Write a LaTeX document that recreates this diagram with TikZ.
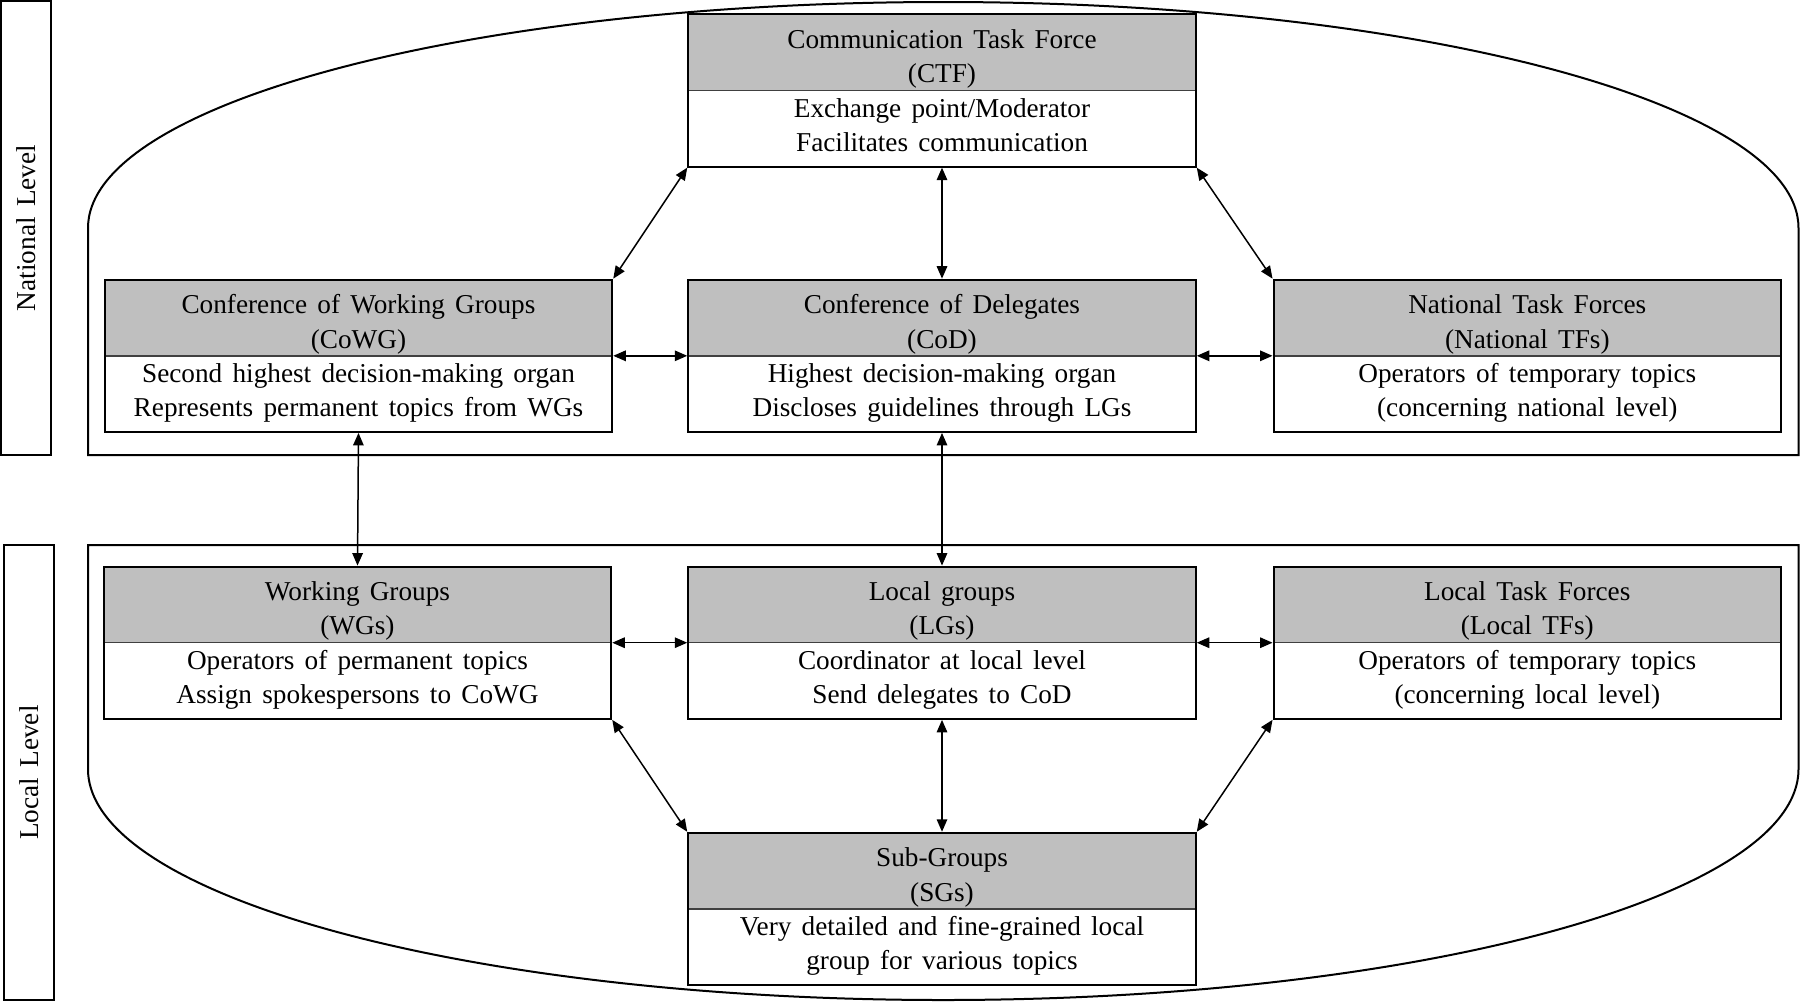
\documentclass[tikz,border=0pt]{standalone}
\usepackage{fontspec}
\setmainfont[WordSpace=1.5]{Liberation Serif}
\usetikzlibrary{arrows.meta,calc}
\definecolor{hdrgray}{RGB}{191,191,191}

\begin{document}
\begin{tikzpicture}[x=0.4pt,y=-0.4pt,
  frame/.style={draw, line width=0.8pt},
  orgbox/.style={draw, line width=0.8pt, fill=white, inner sep=0pt,
    minimum width=203pt, minimum height=60.9pt,
    path picture={
      \fill[hdrgray] (path picture bounding box.north west) rectangle (path picture bounding box.east);
      \draw[line width=0.6pt, black!75] (path picture bounding box.west) -- (path picture bounding box.east);
    }},
  boxtext/.style={anchor=base, inner sep=0pt,
    font=\fontsize{10.9pt}{13.75pt}\selectfont},
  lvlbox/.style={draw, line width=0.8pt, rotate=90, inner sep=0pt,
    font=\fontsize{10.9pt}{13.75pt}\selectfont},
  link/.style={<->, >={Triangle[length=5pt,width=4.2pt]}, line width=0.6pt}
]
\useasboundingbox (0,0) rectangle (1800,1002);

% level frames: flat side towards the middle, half-elliptic outer side
\draw[frame] (88,455) -- (1798.5,455) -- (1798.5,228)
  arc[start angle=0, end angle=-180, x radius=855.25, y radius=226] -- cycle;
\draw[frame] (88,545) -- (1798.5,545) -- (1798.5,769)
  arc[start angle=0, end angle=180, x radius=855.25, y radius=231] -- cycle;

% level labels
\node[lvlbox, minimum width=181.6pt, minimum height=20pt] (natlvl) at (26,228) {National Level};
\node[lvlbox, minimum width=182pt, minimum height=19.6pt] (loclvl) at (29,772.5) {Local Level};

% organisational units
\node[orgbox] (ctf)  at (942,90.5)    {};
\node[orgbox] (cowg) at (358.5,355.8) {};
\node[orgbox] (cod)  at (942,355.8)   {};
\node[orgbox] (ntf)  at (1527.3,355.8){};
\node[orgbox] (wg)   at (357.5,642.7) {};
\node[orgbox] (lg)   at (942,642.7)   {};
\node[orgbox] (ltf)  at (1527.3,642.7){};
\node[orgbox] (sg)   at (942,908.9)   {};

% box texts (title, abbreviation, two lines of description)
\node[boxtext] (ctf-t) at ($(ctf.north)+(0,35)$) {\begin{tabular}[t]{@{}c@{}}Communication Task Force\\(CTF)\\Exchange point/Moderator\\Facilitates communication\end{tabular}};
\node[boxtext] (cowg-t) at ($(cowg.north)+(0,35)$) {\begin{tabular}[t]{@{}c@{}}Conference of Working Groups\\(CoWG)\\Second highest decision-making organ\\Represents permanent topics from WGs\end{tabular}};
\node[boxtext] (cod-t) at ($(cod.north)+(0,35)$) {\begin{tabular}[t]{@{}c@{}}Conference of Delegates\\(CoD)\\Highest decision-making organ\\Discloses guidelines through LGs\end{tabular}};
\node[boxtext] (ntf-t) at ($(ntf.north)+(0,35)$) {\begin{tabular}[t]{@{}c@{}}National Task Forces\\(National TFs)\\Operators of temporary topics\\(concerning national level)\end{tabular}};
\node[boxtext] (wg-t) at ($(wg.north)+(0,35)$) {\begin{tabular}[t]{@{}c@{}}Working Groups\\(WGs)\\Operators of permanent topics\\Assign spokespersons to CoWG\end{tabular}};
\node[boxtext] (lg-t) at ($(lg.north)+(0,35)$) {\begin{tabular}[t]{@{}c@{}}Local groups\\(LGs)\\Coordinator at local level\\Send delegates to CoD\end{tabular}};
\node[boxtext] (ltf-t) at ($(ltf.north)+(0,35)$) {\begin{tabular}[t]{@{}c@{}}Local Task Forces\\(Local TFs)\\Operators of temporary topics\\(concerning local level)\end{tabular}};
\node[boxtext] (sg-t) at ($(sg.north)+(0,35)$) {\begin{tabular}[t]{@{}c@{}}Sub-Groups\\(SGs)\\Very detailed and fine-grained local\\group for various topics\end{tabular}};

% connections
\draw[link] (cowg.north east) -- (ctf.south west);
\draw[link] (ctf.south) -- (cod.north);
\draw[link] (ctf.south east) -- (ntf.north west);
\draw[link] (cowg.east) -- (cod.west);
\draw[link] (cod.east) -- (ntf.west);
\draw[link] (cowg.south) -- (wg.north);
\draw[link] (cod.south) -- (lg.north);
\draw[link] (wg.east) -- (lg.west);
\draw[link] (lg.east) -- (ltf.west);
\draw[link] (wg.south east) -- (sg.north west);
\draw[link] (lg.south) -- (sg.north);
\draw[link] (ltf.south west) -- (sg.north east);
\end{tikzpicture}
\end{document}
